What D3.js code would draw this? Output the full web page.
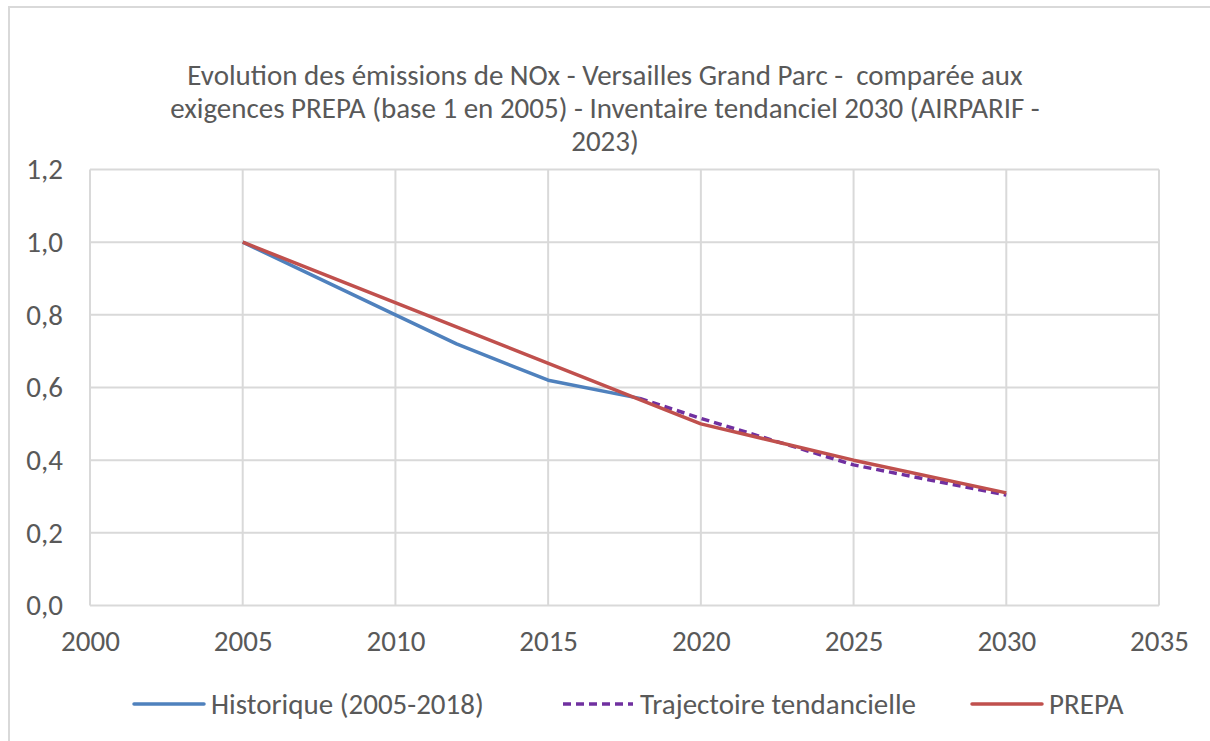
<!DOCTYPE html>
<html lang="fr">
<head>
  <meta charset="UTF-8">
  <script src="https://d3js.org/d3.v7.min.js"></script>
  <title>NOx Versailles Grand Parc</title>
  <style>
    body { margin: 0; background: #fff; }
    text { font-family: Carlito, Calibri, Lato, sans-serif; fill: #595959; white-space: pre; }
  </style>
</head>
<body>
  <svg id="chart" width="1210" height="741"></svg>
  <script>
    // values (base 1 en 2005)
    const titleLines = [
      'Evolution des émissions de NOx - Versailles Grand Parc -  comparée aux',
      'exigences PREPA (base 1 en 2005) - Inventaire tendanciel 2030 (AIRPARIF -',
      '2023)'
    ];
    const historiqueYears = [2005, 2010, 2012, 2015, 2018];
    const historiqueValues = [1.0, 0.80, 0.72, 0.62, 0.57];
    const tendanceYears = [2018, 2020, 2025, 2030];
    const tendanceValues = [0.57, 0.515, 0.387, 0.304];
    const prepaYears = [2005, 2020, 2025, 2030];
    const prepaValues = [1.0, 0.50, 0.40, 0.31];
    const xTicks = [2000, 2005, 2010, 2015, 2020, 2025, 2030, 2035];
    const yTicks = [0, 0.2, 0.4, 0.6, 0.8, 1.0, 1.2];
    const seriesNames = ['Historique (2005-2018)', 'Trajectoire tendancielle', 'PREPA'];

    const svg = d3.select('#chart');
    const fontSize = 29;

    // outer frame
    svg.append('rect')
      .attr('x', 9).attr('y', 7)
      .attr('width', 1220).attr('height', 760)
      .attr('fill', 'none')
      .attr('stroke', '#d9d9d9')
      .attr('stroke-width', 2);

    const x = d3.scaleLinear().domain([2000, 2035]).range([90, 1159]);
    const y = d3.scaleLinear().domain([0, 1.2]).range([605.5, 169.5]);

    // title
    svg.append('g').selectAll('text')
      .data(titleLines)
      .enter()
      .append('text')
      .attr('x', 605)
      .attr('y', (d, i) => 75 + i * 33)
      .attr('dy', '0.35em')
      .attr('text-anchor', 'middle')
      .style('font-size', fontSize + 'px')
      .text(d => d);

    // grid
    const grid = svg.append('g');
    grid.selectAll('.hgrid')
      .data(yTicks)
      .enter()
      .append('line')
      .attr('x1', x(2000)).attr('x2', x(2035))
      .attr('y1', d => y(d)).attr('y2', d => y(d))
      .attr('stroke', '#d9d9d9').attr('stroke-width', 2);
    grid.selectAll('.vgrid')
      .data(xTicks)
      .enter()
      .append('line')
      .attr('x1', d => x(d)).attr('x2', d => x(d))
      .attr('y1', y(0)).attr('y2', y(1.2))
      .attr('stroke', '#d9d9d9').attr('stroke-width', 2);

    // axes (labels only, Excel style)
    const yAxis = svg.append('g')
      .attr('transform', `translate(${x(2000)},0)`)
      .call(d3.axisLeft(y).tickValues(yTicks).tickSize(0).tickPadding(27)
        .tickFormat(d => d3.format('.1f')(d).replace('.', ',')));
    yAxis.select('.domain').remove();
    yAxis.selectAll('text').style('font-size', fontSize + 'px').attr('fill', '#595959');

    const xAxis = svg.append('g')
      .attr('transform', `translate(0,${y(0)})`)
      .call(d3.axisBottom(x).tickValues(xTicks).tickSize(0).tickPadding(25)
        .tickFormat(d3.format('d')));
    xAxis.select('.domain').remove();
    xAxis.selectAll('text').style('font-size', fontSize + 'px').attr('fill', '#595959');

    // series
    const line = d3.line().x(d => x(d[0])).y(d => y(d[1]));
    const series = [
      { pts: d3.zip(historiqueYears, historiqueValues), color: '#4f81bd', dash: null },
      { pts: d3.zip(tendanceYears, tendanceValues), color: '#7030a0', dash: '8,5' },
      { pts: d3.zip(prepaYears, prepaValues), color: '#c0504d', dash: null }
    ];
    series.forEach(s => {
      svg.append('path')
        .datum(s.pts)
        .attr('d', line)
        .attr('fill', 'none')
        .attr('stroke', s.color)
        .attr('stroke-width', 3.5)
        .attr('stroke-linejoin', 'round')
        .attr('stroke-dasharray', s.dash);
    });

    // legend
    const legendItems = [
      { name: seriesNames[0], color: '#4f81bd', dash: null, x0: 134 },
      { name: seriesNames[1], color: '#7030a0', dash: '8,5', x0: 563 },
      { name: seriesNames[2], color: '#c0504d', dash: null, x0: 972 }
    ];
    const legend = svg.append('g').selectAll('g')
      .data(legendItems)
      .enter()
      .append('g')
      .attr('transform', d => `translate(${d.x0},704)`);
    legend.append('line')
      .attr('x1', 0).attr('x2', 70)
      .attr('stroke', d => d.color)
      .attr('stroke-width', 3.5)
      .attr('stroke-linecap', d => d.dash ? 'butt' : 'round')
      .attr('stroke-dasharray', d => d.dash);
    legend.append('text')
      .attr('x', 77)
      .attr('dy', '0.35em')
      .style('font-size', fontSize + 'px')
      .text(d => d.name);
  </script>
</body>
</html>
